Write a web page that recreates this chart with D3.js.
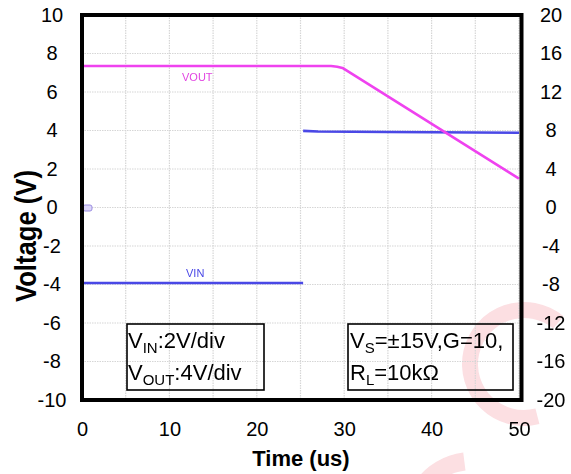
<!DOCTYPE html>
<html>
<head>
<meta charset="utf-8">
<script src="https://cdn.jsdelivr.net/npm/d3@7"></script>
<style>
  html, body { margin: 0; padding: 0; background: #fff; }
  svg { display: block; font-family: "Liberation Sans", Arial, sans-serif; }
</style>
</head>
<body>
<svg id="chart" width="571" height="474"></svg>
<script>
// ---- data ----
const timeTicks = [0, 10, 20, 30, 40, 50];
const gridTimes = [0, 5, 10, 15, 20, 25, 30, 35, 40, 45, 50];
const leftTicks = [10, 8, 6, 4, 2, 0, -2, -4, -6, -8, -10];
const rightTicks = [20, 16, 12, 8, 4, 0, -4, -8, -12, -16, -20];

// VIN (left axis, 2V/div)
const vinLowTime = [0, 25.3];
const vinLowValue = [-3.92, -3.92];
const vinHighTime = [25.3, 27, 35, 50];
const vinHighValue = [3.98, 3.95, 3.92, 3.88];

// VOUT (right axis, 4V/div)
const voutTime = [0, 28.5, 29.2, 29.8, 50];
const voutValue = [14.7, 14.7, 14.63, 14.5, 3.0];

// ---- drawing ----
const svg = d3.select("#chart");
const x = d3.scaleLinear().domain([0, 50]).range([82, 519]);
const yL = d3.scaleLinear().domain([-10, 10]).range([400, 15]);
const yR = d3.scaleLinear().domain([-20, 20]).range([400, 15]);
const fmt = d => String(d);

// watermark
const wm = svg.append("g").attr("fill", "#f6a9b3").attr("opacity", 0.38);
wm.append("path")
  .attr("transform", "translate(524,364)")
  .attr("d", d3.arc()({innerRadius: 46, outerRadius: 62, startAngle: 0.92 * Math.PI, endAngle: 2.22 * Math.PI}));
wm.append("path")
  .attr("transform", "translate(472,522)")
  .attr("d", d3.arc()({innerRadius: 52, outerRadius: 70, startAngle: -0.3 * Math.PI, endAngle: -0.04 * Math.PI}));

// grid
const grid = svg.append("g").attr("stroke", "#d6d6d6").attr("stroke-width", 1.2).attr("stroke-dasharray", "1.5,1");
grid.selectAll("line.v").data(gridTimes).join("line")
  .attr("x1", d => x(d)).attr("x2", d => x(d)).attr("y1", 15).attr("y2", 400);
grid.selectAll("line.h").data(leftTicks).join("line")
  .attr("y1", d => yL(d)).attr("y2", d => yL(d)).attr("x1", 82).attr("x2", 521);

// lines
const vinLine = d3.line().x(d => x(d[0])).y(d => yL(d[1]));
const voutLine = d3.line().x(d => x(d[0])).y(d => yR(d[1]));
svg.append("path").datum(vinLowTime.map((t, i) => [t, vinLowValue[i]]))
  .attr("d", vinLine).attr("fill", "none").attr("stroke", "#4a48e6").attr("stroke-width", 2.6);
svg.append("path").datum(vinHighTime.map((t, i) => [t, vinHighValue[i]]))
  .attr("d", vinLine).attr("fill", "none").attr("stroke", "#4a48e6").attr("stroke-width", 2.6);
svg.append("path").datum(voutTime.map((t, i) => [t, voutValue[i]]))
  .attr("d", voutLine).attr("fill", "none").attr("stroke", "#ef42ef").attr("stroke-width", 2.6)
  .attr("stroke-linejoin", "round");

// trace labels
svg.append("text").attr("x", 182).attr("y", 81).attr("font-size", 11).attr("fill", "#e245e2").text("VOUT");
svg.append("text").attr("x", 186).attr("y", 277).attr("font-size", 11).attr("fill", "#4a48e6").text("VIN");

// ground marker
svg.append("rect").attr("x", 83).attr("y", 205).attr("width", 9).attr("height", 6).attr("rx", 2)
  .attr("fill", "#dcd6fa").attr("stroke", "#9a8ce0").attr("stroke-width", 1);

// frame
svg.append("rect").attr("x", 82).attr("y", 15).attr("width", 439.5).attr("height", 385)
  .attr("fill", "none").attr("stroke", "#000").attr("stroke-width", 4);

// axes tick labels
const leftAxis = d3.axisLeft(yL).tickValues(leftTicks).tickFormat(fmt).tickSize(0).tickPadding(0);
const gl = svg.append("g").attr("transform", "translate(52,0)").call(leftAxis);
gl.select(".domain").remove();
gl.selectAll("text").attr("text-anchor", "middle").attr("x", 0).attr("font-size", 20)
  .attr("font-family", "Liberation Sans, Arial, sans-serif").attr("fill", "#000");

const rightAxis = d3.axisRight(yR).tickValues(rightTicks).tickFormat(fmt).tickSize(0).tickPadding(0);
const gr = svg.append("g").attr("transform", "translate(551,0)").call(rightAxis);
gr.select(".domain").remove();
gr.selectAll("text").attr("text-anchor", "middle").attr("x", 0).attr("font-size", 20)
  .attr("font-family", "Liberation Sans, Arial, sans-serif").attr("fill", "#000");

const bottomAxis = d3.axisBottom(x).tickValues(timeTicks).tickFormat(fmt).tickSize(0).tickPadding(0);
const gb = svg.append("g").attr("transform", "translate(0,422)").call(bottomAxis);
gb.select(".domain").remove();
gb.selectAll("text").attr("font-size", 20).attr("dy", "0.72em")
  .attr("font-family", "Liberation Sans, Arial, sans-serif").attr("fill", "#000");

// axis titles
svg.append("text").attr("x", 301).attr("y", 466).attr("text-anchor", "middle")
  .attr("font-size", 22).attr("font-weight", "bold").text("Time (us)");
svg.append("text").attr("transform", "translate(36,236) rotate(-90)").attr("text-anchor", "middle")
  .attr("font-size", 30).attr("font-weight", "bold")
  .attr("textLength", 132).attr("lengthAdjust", "spacingAndGlyphs").text("Voltage (V)");

// annotation boxes
svg.append("rect").attr("x", 127).attr("y", 324).attr("width", 137).attr("height", 66)
  .attr("fill", "none").attr("stroke", "#000").attr("stroke-width", 1.6);
svg.append("rect").attr("x", 348).attr("y", 324).attr("width", 165).attr("height", 66)
  .attr("fill", "none").attr("stroke", "#000").attr("stroke-width", 1.6);

function subText(xp, yp, parts) {
  const t = svg.append("text").attr("x", xp).attr("y", yp).attr("font-size", 22).attr("fill", "#000");
  parts.forEach(p => {
    const s = t.append("tspan").text(p.t);
    if (p.sub) s.attr("font-size", 15).attr("dy", 5);
    else if (p.after) s.attr("dy", -5);
  });
}
subText(128, 348, [{t: "V"}, {t: "IN", sub: true}, {t: ":2V/div", after: true}]);
subText(128, 380, [{t: "V"}, {t: "OUT", sub: true}, {t: ":4V/div", after: true}]);
subText(350, 348, [{t: "V"}, {t: "S", sub: true}, {t: "=±15V,G=10,", after: true}]);
subText(350, 380, [{t: "R"}, {t: "L", sub: true}, {t: "=10kΩ", after: true}]);
</script>
</body>
</html>
